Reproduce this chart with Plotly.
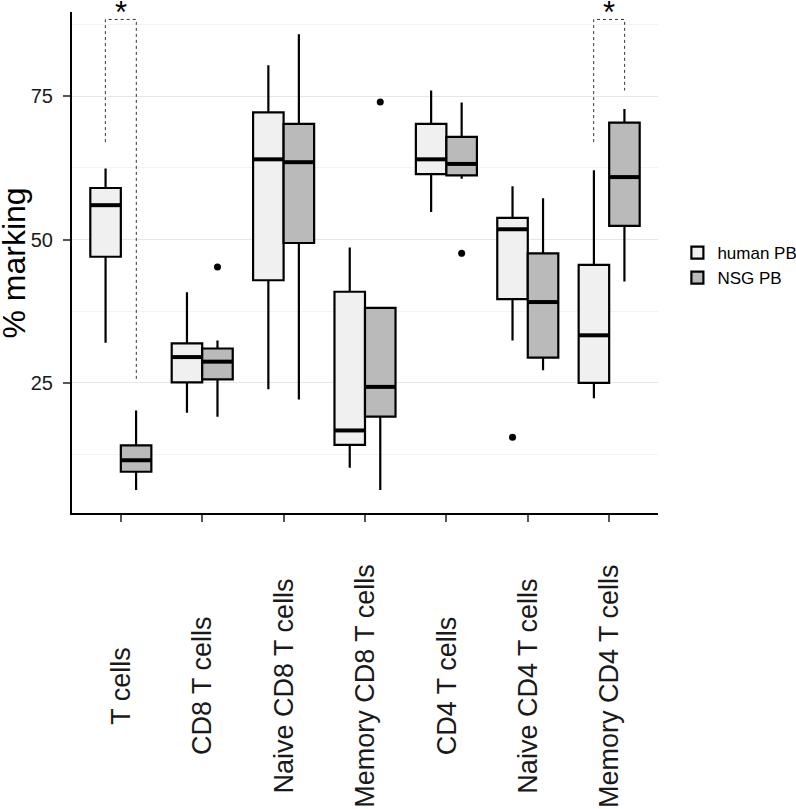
import plotly.graph_objects as go

categories = ["T cells", "CD8 T cells", "Naive CD8 T cells", "Memory CD8 T cells",
              "CD4 T cells", "Naive CD4 T cells", "Memory CD4 T cells"]

# human PB
human_lower = [32.0, 19.8, 23.9, 10.2, 54.8, 32.4, 22.3]
human_q1 = [47.0, 25.1, 42.9, 14.2, 61.4, 39.6, 25.0]
human_median = [56.0, 29.5, 64.0, 16.7, 64.0, 51.8, 33.3]
human_q3 = [59.0, 31.9, 72.2, 40.9, 70.2, 53.8, 45.6]
human_upper = [62.4, 40.8, 80.4, 48.6, 76.0, 59.3, 62.1]
human_outlier_cat = [6]
human_outlier_val = [15.5]

# NSG PB
nsg_lower = [6.3, 19.1, 22.1, 6.3, 60.6, 27.2, 42.7]
nsg_q1 = [9.5, 25.6, 49.4, 19.1, 61.2, 29.4, 52.4]
nsg_median = [11.5, 28.7, 63.5, 24.3, 63.2, 39.1, 60.9]
nsg_q3 = [14.1, 31.0, 70.2, 38.1, 67.9, 47.6, 70.4]
nsg_upper = [20.2, 32.4, 85.8, 38.1, 73.9, 57.2, 72.8]
nsg_outlier_cat = [2, 4, 5]
nsg_outlier_val = [45.2, 74.0, 47.6]

# significance brackets
sig_cat = [1, 7]
sig_left_end = [67.0, 67.0]
sig_right_end = [25.6, 76.0]
sig_top = [88.4, 88.4]
sig_label = ["*", "*"]

y_ticks = [25, 50, 75]
y_minor = [12.5, 37.5, 62.5, 87.5]

BOX_W = 0.375
OFF = 0.1875
BRK = 0.19
pos = list(range(1, len(categories) + 1))

HUMAN_FILL = "#f0f0f0"
NSG_FILL = "#bababa"
FONT = "Liberation Sans, Arial, Helvetica, sans-serif"

fig = go.Figure()

for name, fill, lo, q1, md, q3, up, sign in [
    ("human PB", HUMAN_FILL, human_lower, human_q1, human_median, human_q3, human_upper, -1),
    ("NSG PB", NSG_FILL, nsg_lower, nsg_q1, nsg_median, nsg_q3, nsg_upper, 1),
]:
    xs = [p + sign * OFF for p in pos]
    fig.add_trace(go.Box(
        name=name, x=xs, q1=q1, median=md, q3=q3, lowerfence=lo, upperfence=up,
        width=BOX_W, fillcolor=fill, line=dict(color="black", width=2.2),
        whiskerwidth=0, boxpoints=False, showlegend=True, hoverinfo="skip",
    ))
    # thick median lines
    mx, my = [], []
    for x, m in zip(xs, md):
        mx += [x - BOX_W / 2, x + BOX_W / 2, None]
        my += [m, m, None]
    fig.add_trace(go.Scatter(x=mx, y=my, mode="lines", line=dict(color="black", width=4),
                             showlegend=False, hoverinfo="skip"))

# outliers
fig.add_trace(go.Scatter(x=[c - OFF for c in human_outlier_cat], y=human_outlier_val, mode="markers",
                         marker=dict(color="black", size=7), showlegend=False, hoverinfo="skip"))
fig.add_trace(go.Scatter(x=[c + OFF for c in nsg_outlier_cat], y=nsg_outlier_val, mode="markers",
                         marker=dict(color="black", size=7), showlegend=False, hoverinfo="skip"))

# significance brackets
for c, le, re, top, lab in zip(sig_cat, sig_left_end, sig_right_end, sig_top, sig_label):
    fig.add_trace(go.Scatter(x=[c - BRK, c - BRK, c + BRK, c + BRK], y=[le, top, top, re],
                             mode="lines", line=dict(color="#333333", width=1, dash="dot"),
                             showlegend=False, hoverinfo="skip", cliponaxis=False))
    fig.add_annotation(x=c, y=1.0, xref="x", yref="paper", text=lab, showarrow=False,
                       font=dict(size=31, color="black", family=FONT), yanchor="middle")

# rotated, centred category labels
for p, cat in zip(pos, categories):
    fig.add_annotation(x=p, y=-0.345, xref="x", yref="paper", text=cat, textangle=-90,
                       showarrow=False, xanchor="center", yanchor="middle",
                       font=dict(size=27, color="#1a1a1a", family=FONT))

# y title
fig.add_annotation(x=-0.099, y=0.5, xref="paper", yref="paper", text="% marking", textangle=-90,
                   showarrow=False, xanchor="center", yanchor="middle",
                   font=dict(size=32, color="black", family=FONT))

fig.update_layout(
    width=796, height=809,
    margin=dict(l=72, r=138, t=12, b=296),
    paper_bgcolor="white", plot_bgcolor="white",
    boxmode="overlay",
    font=dict(family=FONT, color="black"),
    showlegend=True,
    legend=dict(xref="container", x=0.851, xanchor="left", y=0.494, yanchor="middle",
                font=dict(size=17, family=FONT, color="black"),
                bgcolor="rgba(0,0,0,0)", tracegroupgap=0),
    xaxis=dict(range=[0.4, 7.6], tickvals=pos, showticklabels=False, ticks="outside",
               ticklen=7, tickcolor="#555555", tickwidth=1.5, showgrid=False, zeroline=False,
               showline=True, linecolor="black", linewidth=2),
    yaxis=dict(range=[2.3, 89.7], tickvals=y_ticks, ticks="outside", ticklen=7,
               tickcolor="#555555", tickwidth=1.5, ticklabelstandoff=6,
               tickfont=dict(size=20, color="#1a1a1a", family=FONT),
               showgrid=True, gridcolor="#e6e6e6", gridwidth=1, zeroline=False,
               minor=dict(tickvals=y_minor, showgrid=True, gridcolor="#f3f3f3", gridwidth=1),
               showline=True, linecolor="black", linewidth=2),
)

fig.write_html("out.html", config={"displayModeBar": False},
               post_script="document.body.style.margin='0';")
